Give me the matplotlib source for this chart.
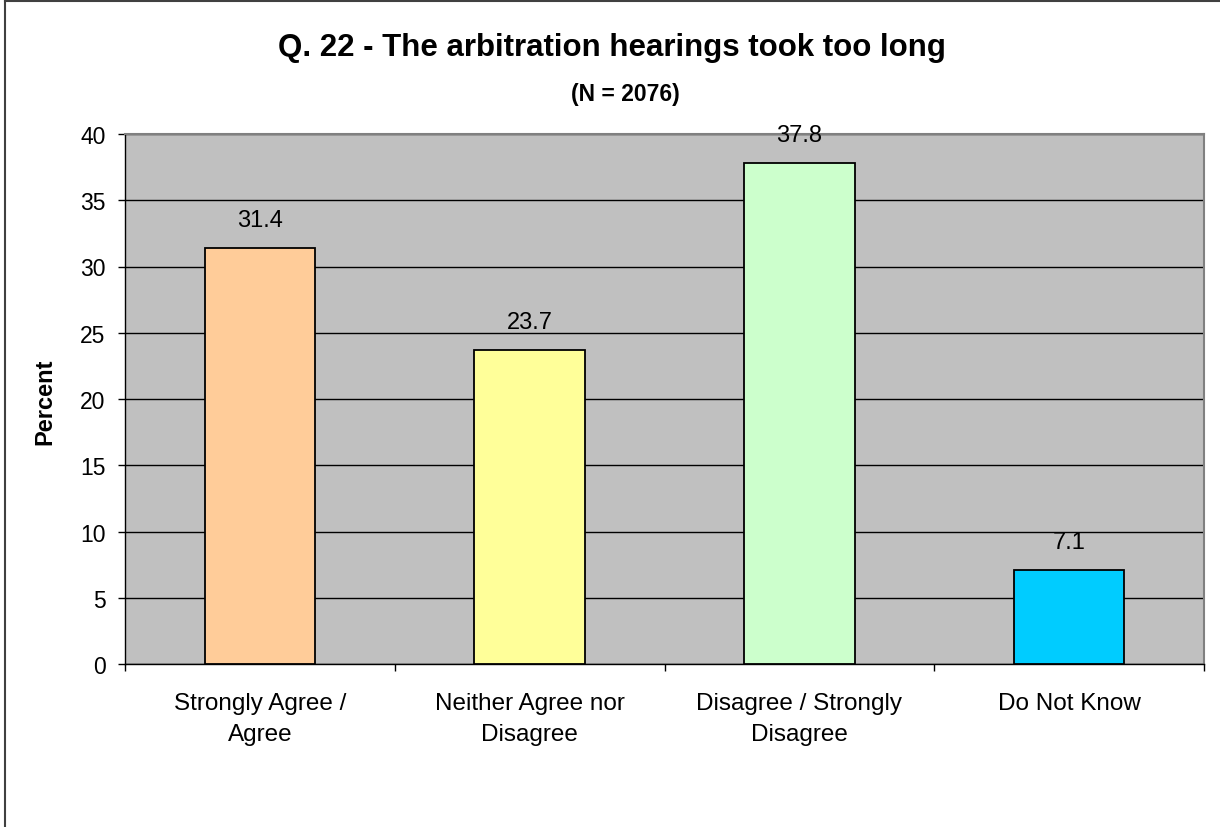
import matplotlib
matplotlib.use("Agg")
import matplotlib.pyplot as plt
from matplotlib.lines import Line2D

categories = ["Strongly Agree /\nAgree", "Neither Agree nor\nDisagree",
              "Disagree / Strongly\nDisagree", "Do Not Know"]
percents = [31.4, 23.7, 37.8, 7.1]
bar_colors = ["#FFCC99", "#FFFF99", "#CCFFCC", "#00CCFF"]
yticks = [0, 5, 10, 15, 20, 25, 30, 35, 40]

plt.rcParams['font.family'] = ['Liberation Sans', 'DejaVu Sans']

fig = plt.figure(figsize=(12.2, 8.28), dpi=100)
ax = fig.add_axes([125/1220, 1 - 665/828, (1204 - 125)/1220, (665 - 135)/828])
ax.set_facecolor("#C0C0C0")

x = list(range(len(categories)))
ax.bar(x, percents, width=0.41, color=bar_colors, edgecolor="black", linewidth=1.3, zorder=3)

for xi, v in zip(x, percents):
    ax.annotate(f"{v:.1f}", (xi, v), xytext=(0, 12), textcoords="offset points",
                ha="center", va="bottom", fontsize=17, zorder=4)

ax.set_xlim(-0.5, 3.5)
ax.set_ylim(0, 40)
ax.set_yticks(yticks)
ax.yaxis.grid(True, color="black", linewidth=1, zorder=1)
ax.set_axisbelow(True)

ax.set_xticks(x)
ax.set_xticklabels(categories, fontsize=17.5, linespacing=1.55)
ax.set_xticks([-0.5, 0.5, 1.5, 2.5, 3.5], minor=True)
ax.tick_params(axis="x", which="major", length=0, pad=20)
ax.tick_params(axis="x", which="minor", length=5, width=1, direction="out")
ax.tick_params(axis="y", length=5, width=1, direction="out", pad=9, labelsize=16.5)

for side in ["left", "bottom"]:
    ax.spines[side].set_color("black")
    ax.spines[side].set_linewidth(1)
for side in ["top", "right"]:
    ax.spines[side].set_color("#808080")
    ax.spines[side].set_linewidth(1.5)

fig.text(612/1220, 1 - 48/828, "Q. 22 - The arbitration hearings took too long",
         ha="center", va="center", fontsize=22.5, fontweight="bold")
fig.text(625/1220, 1 - 94/828, "(N = 2076)",
         ha="center", va="center", fontsize=16.5, fontweight="bold")
fig.text(45/1220, 1 - 402/828, "Percent", rotation=90, ha="center", va="center",
         fontsize=17, fontweight="bold")

fig.lines.append(Line2D([5/1220, 5/1220], [0, 1 - 1.5/828], transform=fig.transFigure,
                        color="#404040", linewidth=1.5))
fig.lines.append(Line2D([5/1220, 1], [1 - 1.5/828, 1 - 1.5/828], transform=fig.transFigure,
                        color="#404040", linewidth=1.5))

fig.savefig("out.png", dpi=100)
